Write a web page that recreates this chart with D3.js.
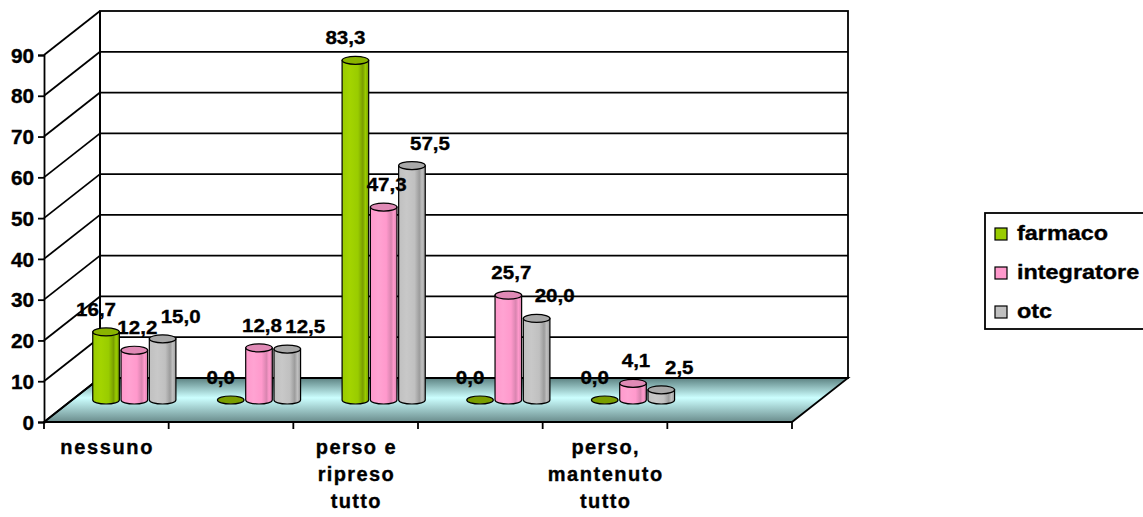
<!DOCTYPE html>
<html>
<head>
<meta charset="utf-8">
<script src="https://cdn.jsdelivr.net/npm/d3@7"></script>
<style>
  body { margin: 0; background: #fff; }
  text { font-family: "Liberation Sans", Arial, sans-serif; font-weight: bold; fill: #000; stroke: #000; stroke-width: 0.35; }
</style>
</head>
<body>
<svg id="chart" width="1143" height="517"></svg>
<script>
// categories (labels 2, 4 and 6 are not shown in the picture)
const categories = [["nessuno"], [""], ["perso e", "ripreso", "tutto"], [""], ["perso,", "mantenuto", "tutto"], [""]]
const seriesNames = ["farmaco", "integratore", "otc"]
const farmaco = [16.7, 0.0, 83.3, 0.0, 0.0, null]
const integratore = [12.2, 12.8, 47.3, 25.7, 4.1, null]
const otc = [15.0, 12.5, 57.5, 20.0, 2.5, null]
const yTicks = [0, 10, 20, 30, 40, 50, 60, 70, 80, 90]

const seriesValues = [farmaco, integratore, otc]
const colors = [
    {light: "#a3d400", base: "#99cc00", dark: "#7a9e00", top: "#8ab400"},
    {light: "#ffa3d2", base: "#ff99cc", dark: "#d985b0", top: "#e08ab6"},
    {light: "#c8c8c8", base: "#c0c0c0", dark: "#9c9c9c", top: "#a8a8a8"}
]

const svg = d3.select("#chart")
const defs = svg.append("defs")

// 3d geometry
const depth = {dx: 56, dy: -44}
const x0 = 44, x1 = 792
const y = d3.scaleLinear().domain([0, 90]).range([422, 55])
const x = d3.scaleBand().domain(d3.range(categories.length)).range([x0, x1])
const xInner = d3.scaleBand().domain(d3.range(seriesNames.length))
    .range([0, x.bandwidth() * 0.667]).paddingInner(0.06)

// stretch text horizontally like the original renderer
function stretch(sel, k, adjust) {
    sel.each(function () {
        const w = this.getComputedTextLength()
        this.setAttribute("textLength", w * k)
        this.setAttribute("lengthAdjust", adjust || "spacingAndGlyphs")
    })
}

//back wall
svg.append("rect")
    .attr("x", x0 + depth.dx).attr("y", y(90) + depth.dy)
    .attr("width", x1 - x0).attr("height", y(0) - y(90))
    .attr("fill", "#fff").attr("stroke", "#000").attr("stroke-width", 1.8)

//floor with gradient
const fg = defs.append("linearGradient").attr("id", "floor")
    .attr("gradientUnits", "userSpaceOnUse")
    .attr("x1", 0).attr("x2", 0).attr("y1", y(0) + depth.dy).attr("y2", y(0))
fg.append("stop").attr("offset", "0%").attr("stop-color", "#5c8282")
fg.append("stop").attr("offset", "45%").attr("stop-color", "#ccffff")
fg.append("stop").attr("offset", "100%").attr("stop-color", "#6a8c8c")

svg.append("path")
    .attr("d", `M${x0},${y(0)} L${x1},${y(0)} L${x1 + depth.dx},${y(0) + depth.dy} L${x0 + depth.dx},${y(0) + depth.dy} Z`)
    .attr("fill", "url(#floor)").attr("stroke", "#000").attr("stroke-width", 1.8)

//gridlines on back wall
svg.selectAll(".grid").data(yTicks.filter(d => d > 0 && d < 90)).enter()
    .append("line").attr("class", "grid")
    .attr("x1", x0 + depth.dx).attr("x2", x1 + depth.dx)
    .attr("y1", d => y(d) + depth.dy).attr("y2", d => y(d) + depth.dy)
    .attr("stroke", "#000").attr("stroke-width", 1.8)

//side wall lines
svg.selectAll(".diag").data(yTicks).enter()
    .append("line").attr("class", "diag")
    .attr("x1", x0).attr("y1", d => y(d))
    .attr("x2", x0 + depth.dx).attr("y2", d => y(d) + depth.dy)
    .attr("stroke", "#000").attr("stroke-width", 1.8)
svg.append("line").attr("x1", x0 + depth.dx).attr("x2", x0 + depth.dx)
    .attr("y1", y(0) + depth.dy).attr("y2", y(90) + depth.dy)
    .attr("stroke", "#000").attr("stroke-width", 1.8)

//y axis
const yAxis = svg.append("g")
    .attr("transform", `translate(${x0},0)`)
    .call(d3.axisLeft(y).tickValues(yTicks).tickSize(6).tickPadding(4))
yAxis.select(".domain").attr("stroke", "#000").attr("stroke-width", 1.8)
yAxis.selectAll(".tick line").attr("stroke", "#000").attr("stroke-width", 1.8)
yAxis.selectAll("text").attr("font-size", 20).attr("font-family", null)
    .attr("dy", "0.36em").call(stretch, 1.04)

//x axis on the front edge
const xAxis = svg.append("g")
svg.append("line").attr("x1", x0).attr("x2", x1).attr("y1", y(0)).attr("y2", y(0))
    .attr("stroke", "#000").attr("stroke-width", 1.8)
xAxis.selectAll("line").data(d3.range(categories.length + 1)).enter()
    .append("line")
    .attr("x1", i => x0 + i * x.step()).attr("x2", i => x0 + i * x.step())
    .attr("y1", y(0)).attr("y2", y(0) + 7)
    .attr("stroke", "#000").attr("stroke-width", 1.8)

categories.forEach((lines, i) => {
    lines.forEach((line, j) => {
        if (!line) return
        xAxis.append("text")
            .attr("x", x(i) + x.bandwidth() / 2)
            .attr("y", 454 + j * 27)
            .attr("text-anchor", "middle")
            .attr("font-size", 20)
            .text(line)
            .call(stretch, 1.12, "spacing")
    })
})

//cylinders
const bars = []
seriesValues.forEach((vals, s) => {
    vals.forEach((v, i) => {
        if (v === null) return
        bars.push({s: s, i: i, v: v})
    })
})

colors.forEach((c, s) => {
    const g = defs.append("linearGradient").attr("id", "cyl" + s)
        .attr("x1", "0%").attr("x2", "100%").attr("y1", 0).attr("y2", 0)
    g.append("stop").attr("offset", "0%").attr("stop-color", c.base)
    g.append("stop").attr("offset", "30%").attr("stop-color", c.light)
    g.append("stop").attr("offset", "60%").attr("stop-color", c.base)
    g.append("stop").attr("offset", "78%").attr("stop-color", c.dark)
    g.append("stop").attr("offset", "88%").attr("stop-color", c.base)
    g.append("stop").attr("offset", "100%").attr("stop-color", c.dark)
})

const ry = 4
const barGroup = svg.append("g")
bars.forEach(d => {
    const left = x(d.i) + (x.bandwidth() - xInner.range()[1]) / 2 + xInner(d.s) + depth.dx / 2
    const w = xInner.bandwidth()
    const base = y(0) + depth.dy / 2
    const top = y(d.v) + depth.dy / 2
    const rx = w / 2
    d.cx = left + rx
    d.top = top
    if (d.v > 0) {
        barGroup.append("path")
            .attr("d", `M${left},${top} L${left},${base} A${rx},${ry} 0 0 0 ${left + w},${base} L${left + w},${top} Z`)
            .attr("fill", `url(#cyl${d.s})`).attr("stroke", "#000").attr("stroke-width", 1.2)
    }
    barGroup.append("ellipse")
        .attr("cx", left + rx).attr("cy", top).attr("rx", rx).attr("ry", ry)
        .attr("fill", d.v > 0 ? colors[d.s].top : colors[d.s].dark)
        .attr("stroke", "#000").attr("stroke-width", 1.2)
})

//data labels
const labelDx = [-10, 3, 18]
svg.append("g").selectAll("text").data(bars).enter()
    .append("text")
    .attr("x", d => d.cx + labelDx[d.s])
    .attr("y", d => d.top - ry - 12)
    .attr("text-anchor", "middle")
    .attr("font-size", 19)
    .text(d => d3.format(".1f")(d.v).replace(".", ","))
    .call(stretch, 1.08)

//legend
const legend = svg.append("g").attr("transform", "translate(985,213)")
legend.append("rect").attr("width", 170).attr("height", 116)
    .attr("fill", "#fff").attr("stroke", "#000").attr("stroke-width", 1.8)
seriesNames.forEach((name, s) => {
    legend.append("rect")
        .attr("x", 10).attr("y", 15 + s * 39)
        .attr("width", 12).attr("height", 12)
        .attr("fill", colors[s].base).attr("stroke", "#000").attr("stroke-width", 1.2)
    legend.append("text")
        .attr("x", 32).attr("y", 27 + s * 39)
        .attr("font-size", 20)
        .text(name)
        .call(stretch, 1.17)
})
</script>
</body>
</html>
